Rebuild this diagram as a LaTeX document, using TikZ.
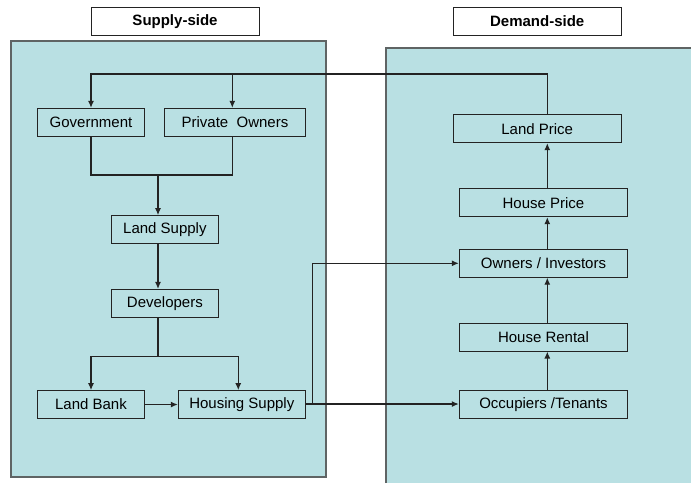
\documentclass[tikz,border=0pt]{standalone}
\usepackage{fontspec}
\setmainfont{Liberation Sans}
\usetikzlibrary{arrows.meta,calc}
\definecolor{panelfill}{RGB}{185,224,227}
\definecolor{panelline}{RGB}{95,100,100}
\definecolor{ink}{RGB}{35,35,35}
\tikzset{
  box/.style={draw=ink,line width=1pt,rectangle,inner sep=0pt,minimum height=27.7pt,font=\fontsize{15}{18}\selectfont},
  headbox/.style={box,fill=white,font=\fontsize{15}{18}\selectfont\bfseries},
  conn/.style={draw=ink,line width=1.2pt},
  arr/.style={conn,-{Latex[length=7pt,width=6pt]}}
}
\begin{document}
\begin{tikzpicture}[x=1pt,y=-1pt]
\useasboundingbox (0,0) rectangle (691,483);
\fill[white] (0,0) rectangle (691,483);
% panels
\fill[panelfill] (11,41) rectangle (326,477);
\draw[panelline,line width=1.1pt] (11,41) rectangle (326,477);
\fill[panelfill] (386,48) rectangle (691,483);
\draw[panelline,line width=1.3pt] (386,483) -- (386,48) -- (691,48);
% headings
\node[headbox,minimum width=168pt] (sup) at (175,21.3) {Supply-side};
\node[headbox,minimum width=167.7pt] (dem) at (537.2,21.3) {Demand-side};
% supply nodes
\node[box,minimum width=107.4pt] (gov) at (91,122.2) {Government};
\node[box,minimum width=140.6pt] (po) at (235,122.2) {Private\ \ Owners};
\node[box,minimum width=107.7pt] (ls) at (164.9,229.5) {Land Supply};
\node[box,minimum width=107.7pt] (dev) at (164.9,303.3) {Developers};
\node[box,minimum width=107.4pt] (lb) at (91,404.5) {Land Bank};
\node[box,minimum width=127pt] (hs) at (241.8,404.5) {Housing Supply};
% demand nodes
\node[box,minimum width=167.7pt] (lp) at (537.2,128.8) {Land Price};
\node[box,minimum width=168.4pt] (hp) at (543.5,202.8) {House Price};
\node[box,minimum width=168.4pt] (oi) at (543.5,263.3) {Owners / Investors};
\node[box,minimum width=168.4pt] (hr) at (543.5,337.2) {House Rental};
\node[box,minimum width=168.4pt] (oc) at (543.5,404.5) {Occupiers /Tenants};
% helper coordinates
\coordinate (top) at (547.3,74);
\coordinate (poin) at (232.3,74);
\coordinate (join) at (158,175);
\coordinate (split) at (158,356.7);
\coordinate (hsin) at (238.3,356.7);
\coordinate (riser) at (312.3,404);
% feedback from land price
\draw[arr] (lp.north -| top) -- (top) -- (top -| gov) -- (gov.north);
\draw[arr] (poin) -- (po.north -| poin);
% gov & private owners to land supply
\draw[conn] (gov.south) -- (gov.south |- join) -- (join -| poin) -- (po.south -| poin);
\draw[arr] (join) -- (ls.north -| join);
\draw[arr] (ls.south -| join) -- (dev.north -| join);
% developers split
\draw[conn] (dev.south -| join) -- (split);
\draw[arr] (split) -- (split -| lb) -- (lb.north);
\draw[arr] (split) -- (hsin) -- (hs.north -| hsin);
\draw[arr] (lb.east) -- (lb.east -| hs.west);
% housing supply to demand side
\draw[arr] (hs.east |- riser) -- (oc.west |- riser);
\draw[arr] (riser) -- (riser |- oi.west) -- (oi.west);
% demand chain
\draw[arr] (oc.north -| top) -- (hr.south -| top);
\draw[arr] (hr.north -| top) -- (oi.south -| top);
\draw[arr] (oi.north -| top) -- (hp.south -| top);
\draw[arr] (hp.north -| top) -- (lp.south -| top);
\end{tikzpicture}
\end{document}
